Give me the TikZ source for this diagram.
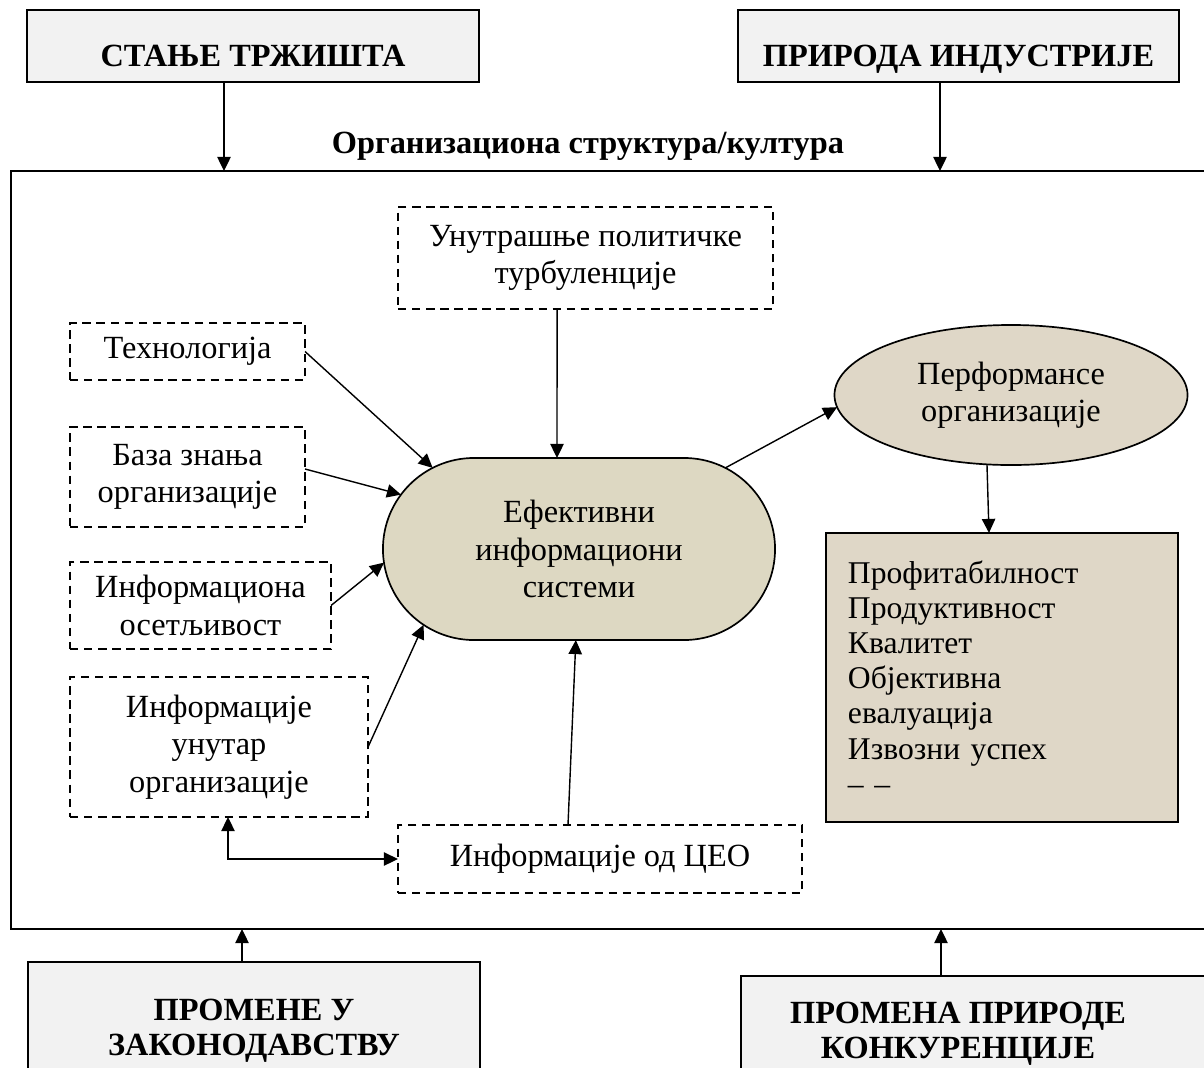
\documentclass[tikz,border=0pt]{standalone}
\usepackage{fontspec}
\setmainfont{Liberation Serif}
\usetikzlibrary{arrows.meta, shapes.geometric, shapes.misc, positioning, calc}
\definecolor{khaki}{HTML}{DDD8C2}
\definecolor{linen}{HTML}{DFD7C7}
\definecolor{paper}{HTML}{F2F2F2}

\begin{document}
\begin{tikzpicture}[
    x=0.025cm, y=-0.025cm,
    >={Triangle[length=10pt,width=9.5pt]},
    every node/.style={font=\fontsize{23}{26.5}\selectfont, outer sep=0pt},
    % Outer influences
    outer_box/.style={draw, line width=1.3pt, fill=paper, inner sep=0pt},
    outer_text/.style={font=\fontsize{23}{25}\selectfont\bfseries, align=center, inner sep=0pt},
    % Factors inside the organisation
    factor_box/.style={draw, line width=1.4pt, dash pattern=on 6pt off 4pt, inner sep=0pt, align=center},
    core_box/.style={draw, line width=1.2pt, fill=khaki, rounded rectangle, inner sep=0pt, align=center},
    perf_box/.style={draw, line width=1.2pt, fill=linen, ellipse, inner sep=0pt, align=center},
    conn/.style={->, line width=1pt},
    frame_line/.style={line width=1.5pt}
]
\useasboundingbox (0,0) rectangle (1204,1067);
\clip (0,0) rectangle (1204,1067);

% --- Outer influences ---
\node[outer_box, outer_text, text height=29pt, text depth=0pt, minimum width=11.3cm, minimum height=1.8cm] (market) at (253,46) {СТАЊЕ ТРЖИШТА};
\node[outer_box, outer_text, text height=29pt, text depth=0pt, minimum width=11.025cm, minimum height=1.8cm] (industry) at (958.5,46) {ПРИРОДА ИНДУСТРИЈЕ};

\node[outer_box, anchor=north west, minimum width=11.3cm, minimum height=3cm] (law) at (28,962) {};
\node[outer_text] (law_txt) at (254,1031) {ПРОМЕНЕ У\\ЗАКОНОДАВСТВУ};
\node[outer_box, anchor=north west, minimum width=11.725cm, minimum height=3cm] (rivals) at (741,976) {};
\node[outer_text] (rivals_txt) at (958,1034) {ПРОМЕНА ПРИРОДЕ\\КОНКУРЕНЦИЈЕ};

% --- Organisation frame ---
\draw[frame_line] (11,171) rectangle (1210,929);
\node[outer_text] (org) at (588,146) {Организациона структура/култура};

\coordinate (market_in) at (224,171);
\coordinate (industry_in) at (940,171);
\coordinate (law_in) at (242,929);
\coordinate (rivals_in) at (941,929);

\draw[conn] (market.south -| market_in) -- (market_in);
\draw[conn] (industry.south -| industry_in) -- (industry_in);
\draw[conn] (law.north -| law_in) -- (law_in);
\draw[conn] (rivals.north -| rivals_in) -- (rivals_in);

% --- Factors ---
\node[factor_box, minimum width=9.375cm, minimum height=2.55cm] (politics) at (585.5,258) {Унутрашње политичке\\турбуленције};
\node[factor_box, minimum width=5.875cm, minimum height=1.425cm] (tech) at (187.5,351.5) {Технологија};
\node[factor_box, minimum width=5.875cm, minimum height=2.5cm] (knowledge) at (187.5,477) {База знања\\организације};
\node[factor_box, minimum width=6.525cm, minimum height=2.175cm] (sense) at (200.5,605.5) {Информациона\\осетљивост};
\node[factor_box, minimum width=7.45cm, minimum height=3.5cm] (inside) at (219,747) {Информације\\унутар\\организације};
\node[factor_box, minimum width=10.1cm, minimum height=1.7cm] (ceo) at (600,859) {Информације од ЦЕО};

% --- Core and outcomes ---
\node[core_box, minimum width=9.8cm, minimum height=4.55cm] (eis) at (579,549) {Ефективни\\информациони\\системи};
\node[perf_box, minimum width=8.825cm, minimum height=3.5cm] (perf) at (1011,395) {Перформансе\\организације};
\node[draw, line width=1.3pt, fill=linen, minimum width=8.8cm, minimum height=7.225cm,
      text width=7.7cm, inner xsep=0.55cm, inner ysep=0pt, align=left,
      font=\fontsize{22.5}{25}\selectfont] (results) at (1002,677.5)
     {Профитабилност\\Продуктивност\\Квалитет\\Објективна\\евалуација\\Извозни успех\\– –};

% --- Connectors ---
\draw[conn] ([xshift=-0.71cm]politics.south) -- ([xshift=-0.55cm]eis.north);
\draw[conn] (tech.east) -- (eis.151);
\draw[conn] ([yshift=0.2cm]knowledge.east) -- (eis.163);
\draw[conn] (sense.east) -- (eis.184);
\draw[conn] (inside.east) -- (eis.206);
\draw[conn] ([xshift=-0.8cm]ceo.north) -- (eis.268);
\draw[<->, line width=1pt] ([xshift=0.225cm]inside.south) |- (ceo.west);
\draw[conn] (eis.29) -- (perf.184);
\draw[conn] ([xshift=-0.6cm]perf.south) -- ([xshift=-0.325cm]results.north);

\end{tikzpicture}
\end{document}
